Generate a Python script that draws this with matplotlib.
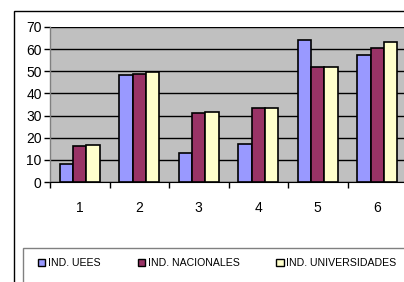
import matplotlib
matplotlib.use("Agg")
import matplotlib.pyplot as plt
import numpy as np
from matplotlib.patches import Rectangle, Patch

categories = ["1", "2", "3", "4", "5", "6"]
ind_uees = [8, 48.3, 13, 17.2, 64, 57.4]
ind_nacionales = [16.3, 48.9, 31, 33.3, 52.1, 60.3]
ind_universidades = [16.6, 49.5, 31.7, 33.3, 52.1, 63.1]
series_names = ["IND. UEES", "IND. NACIONALES", "IND. UNIVERSIDADES"]
colors = ["#9999FF", "#993366", "#FFFFCC"]

plt.rcParams['font.family'] = ['Liberation Sans', 'DejaVu Sans']

W, H = 404, 282
fig = plt.figure(figsize=(W/100, H/100), dpi=100)
fig.patch.set_facecolor("white")

# outer chart border
fig.add_artist(Rectangle((14.5/W, -0.1), 1.0, 1 - 10.5/H + 0.1, transform=fig.transFigure,
                         fill=False, edgecolor="black", linewidth=1.0, clip_on=False))

ax = fig.add_axes([50/W, 1 - 182/H, 357/W, 155/H])
ax.set_facecolor("#C0C0C0")
x = np.arange(len(categories))
bw = 0.223
for i, (vals, c, name) in enumerate(zip([ind_uees, ind_nacionales, ind_universidades], colors, series_names)):
    ax.bar(x + (i - 1) * bw, vals, width=bw, color=c, edgecolor="black", linewidth=1.2, zorder=3, label=name)

ax.set_xlim(-0.5, len(categories) - 0.5)
ax.set_ylim(0, 70)
ax.set_yticks(np.arange(0, 71, 10))
ax.yaxis.grid(True, color="black", linewidth=1.0, zorder=1)
ax.set_axisbelow(True)
ax.set_xticks(x)
ax.set_xticklabels(categories, fontsize=10)
ax.set_xticks(np.arange(-0.5, len(categories), 1), minor=True)
ax.tick_params(axis='x', which='major', length=0, pad=14)
ax.tick_params(axis='x', which='minor', length=4, direction='out', width=1, color="black")
ax.tick_params(axis='y', length=4, direction='out', width=1, labelsize=10, pad=2)
for s in ["top", "right"]:
    ax.spines[s].set_visible(False)
ax.spines["left"].set_color("#808080")
ax.spines["bottom"].set_color("black")
ax.spines["left"].set_linewidth(1.0)

# legend box
fig.add_artist(Rectangle((22.5/W, -0.1), 1.0, 1 - 248/H + 0.1, transform=fig.transFigure,
                         fill=False, edgecolor="#808080", linewidth=1.0, clip_on=False))
handles = [Patch(facecolor=c, edgecolor="black", linewidth=1.0) for c in colors]
leg = fig.legend(handles, series_names, loc="center left", bbox_to_anchor=(38/W, 1 - 263/H),
                 ncol=3, frameon=False, fontsize=7.6, handlelength=0.7, handleheight=0.7,
                 handletextpad=0.25, columnspacing=3.5, borderpad=0, borderaxespad=0)

fig.savefig("out.png", dpi=100)
